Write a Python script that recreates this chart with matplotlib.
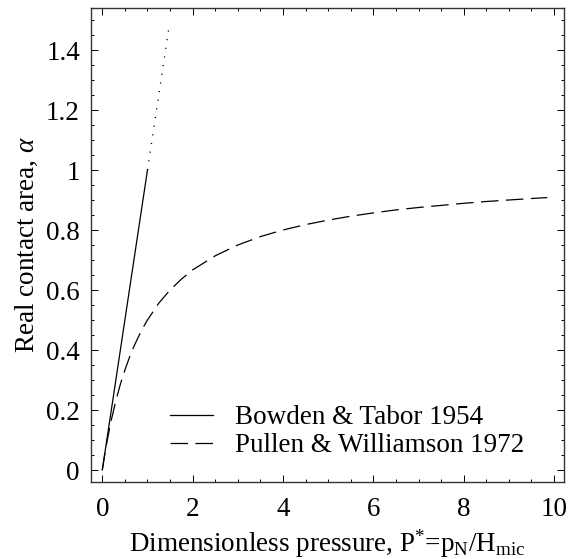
import matplotlib
matplotlib.use("Agg")
import matplotlib.pyplot as plt
from matplotlib.ticker import MultipleLocator, FixedLocator

plt.rcParams['font.family'] = ['Liberation Serif', 'DejaVu Serif']
plt.rcParams['mathtext.fontset'] = 'custom'
plt.rcParams['mathtext.rm'] = 'Liberation Serif'
plt.rcParams['mathtext.it'] = 'Liberation Serif:italic'

# Bowden & Tabor 1954 (solid up to P*=1, dotted continuation)
bt_p = [0.0, 1.0]
bt_a = [0.0, 1.0]
bt_ext_p = [1.0, 1.47]
bt_ext_a = [1.0, 1.47]

# Pullen & Williamson 1972
pw_p = [0.0, 0.05, 0.1, 0.15, 0.2, 0.3, 0.4, 0.5, 0.6, 0.7, 0.8, 0.9, 1.0, 1.25, 1.5, 1.75,
        2.0, 2.5, 3.0, 3.5, 4.0, 4.5, 5.0, 5.5, 6.0, 6.5, 7.0, 7.5, 8.0, 8.5, 9.0, 9.5, 9.85]
pw_a = [0.0, 0.048, 0.091, 0.130, 0.167, 0.231, 0.286, 0.333, 0.375, 0.412, 0.444, 0.474, 0.5,
        0.556, 0.6, 0.636, 0.667, 0.714, 0.75, 0.778, 0.8, 0.818, 0.833, 0.846, 0.857, 0.867,
        0.875, 0.882, 0.889, 0.895, 0.9, 0.905, 0.908]

x_ticks = [0, 2, 4, 6, 8, 10]
x_ticklabels = ['0', '2', '4', '6', '8', '10']
y_ticks = [0, 0.2, 0.4, 0.6, 0.8, 1.0, 1.2, 1.4]
y_ticklabels = ['0', '0.2', '0.4', '0.6', '0.8', '1', '1.2', '1.4']

FS = 19.5

fig = plt.figure(figsize=(5.68, 5.59), dpi=100)
ax = fig.add_axes([91/568, 1 - 482/559, (564-91)/568, (482-8)/559])

ax.plot(bt_p, bt_a, color='black', lw=0.9, label='Bowden & Tabor 1954')
ax.plot(bt_ext_p, bt_ext_a, color='black', lw=1.0, linestyle=(0, (0.8, 5.5)))
ax.plot(pw_p, pw_a, color='black', lw=0.9, linestyle=(0, (14, 6)),
        label='Pullen & Williamson 1972')

ax.set_xlim(-0.25, 10.22)
ax.set_ylim(-0.04, 1.54)

ax.xaxis.set_major_locator(FixedLocator(x_ticks))
ax.set_xticklabels(x_ticklabels)
ax.yaxis.set_major_locator(FixedLocator(y_ticks))
ax.set_yticklabels(y_ticklabels)
ax.xaxis.set_minor_locator(MultipleLocator(0.5))
ax.yaxis.set_minor_locator(MultipleLocator(0.05))

ax.tick_params(which='both', direction='in', top=True, right=True, labelsize=FS, width=0.7)
ax.tick_params(which='major', length=5)
ax.tick_params(which='minor', length=2.5)
ax.tick_params(axis='x', which='major', pad=11)
ax.tick_params(axis='y', which='major', pad=8)
for s in ax.spines.values():
    s.set_linewidth(1.0)
    s.set_color('#333333')

ax.set_xlabel('Dimensionless pressure, P$^{*}$=p$_{\\rm N}$/H$_{\\rm mic}$', fontsize=FS, labelpad=4)
ax.set_ylabel('Real contact area, $\\mathit{\\alpha}$', fontsize=FS, labelpad=4)

leg = ax.legend(loc='lower left', bbox_to_anchor=(0.167, 0.05), frameon=False, fontsize=FS,
                handlelength=1.6, handletextpad=0.8, labelspacing=0.12, borderaxespad=0,
                borderpad=0)

fig.savefig('out.png', dpi=100)
